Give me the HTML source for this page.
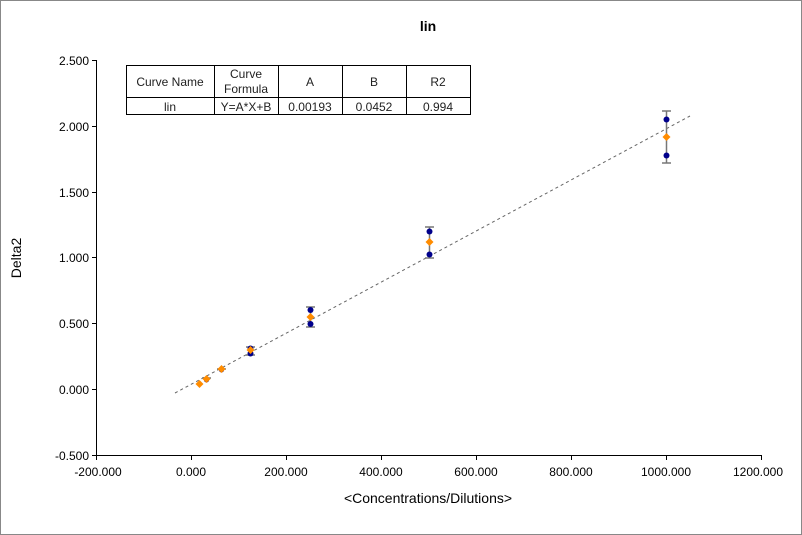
<!DOCTYPE html>
<html><head><style>
body{margin:0;background:#fff;}
svg{display:block;font-family:"Liberation Sans",Arial,sans-serif;}
</style></head><body>
<svg width="802" height="535" viewBox="0 0 802 535">
<rect x="0.5" y="0.5" width="801" height="534" fill="#fff" stroke="#888"/>
<text x="428" y="31" font-size="14" font-weight="bold" text-anchor="middle">lin</text>
<g stroke="#000" stroke-width="1">
<line x1="96.5" y1="60" x2="96.5" y2="455"/>
<line x1="96" y1="455.5" x2="762" y2="455.5"/>
<line x1="92" y1="60.5" x2="96" y2="60.5"/>
<line x1="92" y1="126.5" x2="96" y2="126.5"/>
<line x1="92" y1="192.5" x2="96" y2="192.5"/>
<line x1="92" y1="257.5" x2="96" y2="257.5"/>
<line x1="92" y1="323.5" x2="96" y2="323.5"/>
<line x1="92" y1="389.5" x2="96" y2="389.5"/>
<line x1="92" y1="455.5" x2="96" y2="455.5"/>
<line x1="96.5" y1="455" x2="96.5" y2="460"/>
<line x1="191.5" y1="455" x2="191.5" y2="460"/>
<line x1="286.5" y1="455" x2="286.5" y2="460"/>
<line x1="381.5" y1="455" x2="381.5" y2="460"/>
<line x1="476.5" y1="455" x2="476.5" y2="460"/>
<line x1="571.5" y1="455" x2="571.5" y2="460"/>
<line x1="666.5" y1="455" x2="666.5" y2="460"/>
<line x1="761.5" y1="455" x2="761.5" y2="460"/>
</g>
<g font-size="12" text-anchor="end">
<text x="89" y="65">2.500</text>
<text x="89" y="131">2.000</text>
<text x="89" y="197">1.500</text>
<text x="89" y="262">1.000</text>
<text x="89" y="328">0.500</text>
<text x="89" y="394">0.000</text>
<text x="89" y="460">-0.500</text>
</g>
<g font-size="12" text-anchor="middle">
<text x="98" y="476">-200.000</text>
<text x="191" y="476">0.000</text>
<text x="286" y="476">200.000</text>
<text x="381" y="476">400.000</text>
<text x="476" y="476">600.000</text>
<text x="571" y="476">800.000</text>
<text x="666" y="476">1000.000</text>
<text x="758" y="476">1200.000</text>
</g>
<text x="428" y="503" font-size="14" text-anchor="middle">&lt;Concentrations/Dilutions&gt;</text>
<text x="21" y="258" font-size="14" text-anchor="middle" transform="rotate(-90 21 258)">Delta2</text>
<!-- table -->
<g stroke="#000" stroke-width="1" fill="none">
<rect x="126.5" y="65.5" width="344" height="49"/>
<line x1="126" y1="97.5" x2="471" y2="97.5"/>
<line x1="214.5" y1="65" x2="214.5" y2="115"/>
<line x1="278.5" y1="65" x2="278.5" y2="115"/>
<line x1="342.5" y1="65" x2="342.5" y2="115"/>
<line x1="406.5" y1="65" x2="406.5" y2="115"/>
</g>
<g font-size="12" text-anchor="middle" fill="#222">
<text x="170" y="86">Curve Name</text>
<text x="246" y="78">Curve</text>
<text x="246" y="93">Formula</text>
<text x="310" y="86">A</text>
<text x="374" y="86">B</text>
<text x="438" y="86">R2</text>
<text x="170" y="111">lin</text>
<text x="246" y="111">Y=A*X+B</text>
<text x="310" y="111">0.00193</text>
<text x="374" y="111">0.0452</text>
<text x="438" y="111">0.994</text>
</g>
<line x1="175" y1="393" x2="690" y2="116" stroke="#666" stroke-dasharray="3,3"/>
<g stroke="#777" stroke-width="1.5">
<line x1="666.5" y1="111" x2="666.5" y2="163"/><line x1="662" y1="111" x2="671" y2="111"/><line x1="662" y1="163" x2="671" y2="163"/>
<line x1="429.5" y1="227" x2="429.5" y2="258"/><line x1="425" y1="227" x2="434" y2="227"/><line x1="425" y1="258" x2="434" y2="258"/>
<line x1="310.5" y1="307" x2="310.5" y2="327"/><line x1="306" y1="307" x2="315" y2="307"/><line x1="306" y1="327" x2="315" y2="327"/>
<line x1="250.5" y1="347" x2="250.5" y2="355"/><line x1="246" y1="347" x2="255" y2="347"/><line x1="246" y1="355" x2="255" y2="355"/>
<line x1="217" y1="369" x2="226" y2="369"/>
<line x1="202" y1="378" x2="211" y2="378"/>
</g>
<g fill="#00008b">
<circle cx="666.5" cy="119.5" r="3"/><circle cx="666.5" cy="155.5" r="3"/>
<circle cx="429.5" cy="231.5" r="3"/><circle cx="429.5" cy="254.5" r="3"/>
<circle cx="310.5" cy="310" r="3"/><circle cx="310.5" cy="324" r="3"/>
<circle cx="250.5" cy="348.5" r="3"/><circle cx="250.5" cy="353.5" r="3"/>
<circle cx="221.5" cy="370" r="2.5"/><circle cx="206.5" cy="380" r="2.5"/>
</g>
<g fill="#ff8c00">
<path d="M666.5 133l4 4-4 4-4-4z"/>
<path d="M429.5 238l4 4-4 4-4-4z"/>
<path d="M310.5 313l4 4-4 4-4-4z"/>
<path d="M250.5 346l4 4-4 4-4-4z"/>
<path d="M221.5 365l4 4-4 4-4-4z"/>
<path d="M206.5 375l4 4-4 4-4-4z"/>
<path d="M199.5 380l4 4-4 4-4-4z"/>
</g>
</svg>
</body></html>
